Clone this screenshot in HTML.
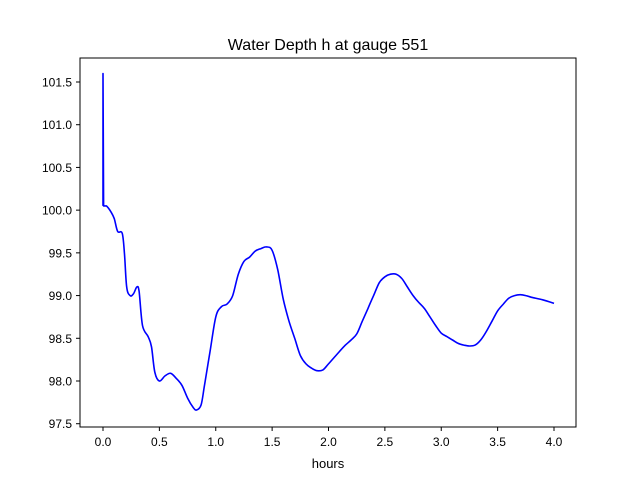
<!DOCTYPE html>
<html><head><meta charset="utf-8"><style>
body{margin:0;background:#fff}
svg{font-family:"Liberation Sans","DejaVu Sans",sans-serif}
</style></head><body>
<svg id="chart" width="640" height="480">
<rect width="640" height="480" fill="#fff"/>
<text x="328" y="50" font-size="16" text-anchor="middle">Water Depth h at gauge 551</text>
<text x="328" y="468" font-size="13" text-anchor="middle">hours</text>
<g id="ticks"></g>
<path id="line" fill="none" stroke="#0000ff" stroke-width="1.6" stroke-linejoin="round"/>
<rect x="80" y="58" width="496" height="369" fill="none" stroke="#000" stroke-width="1"/>
</svg>
<script>
const times=[0,0,0.005,0.03,0.07,0.1,0.13,0.17,0.19,0.21,0.24,0.27,0.3,0.32,0.35,0.4,0.43,0.46,0.5,0.55,0.6,0.65,0.7,0.75,0.8,0.83,0.87,0.9,0.95,1.0,1.05,1.1,1.15,1.2,1.25,1.3,1.35,1.4,1.45,1.5,1.55,1.6,1.65,1.7,1.75,1.8,1.85,1.9,1.95,2.0,2.1,2.15,2.2,2.25,2.3,2.35,2.4,2.45,2.5,2.55,2.6,2.65,2.7,2.75,2.8,2.85,2.9,2.95,3.0,3.05,3.1,3.15,3.2,3.25,3.3,3.35,3.4,3.45,3.5,3.55,3.6,3.65,3.7,3.75,3.8,3.9,4.0];
const depths=[100.05,101.6,100.05,100.05,99.98,99.9,99.75,99.73,99.5,99.1,99.0,99.02,99.1,99.05,98.65,98.52,98.4,98.1,98.0,98.06,98.09,98.03,97.95,97.8,97.69,97.66,97.72,97.95,98.35,98.75,98.87,98.9,99.0,99.25,99.4,99.45,99.52,99.55,99.57,99.53,99.3,98.95,98.7,98.5,98.3,98.2,98.15,98.12,98.13,98.2,98.35,98.42,98.48,98.55,98.7,98.85,99.0,99.15,99.22,99.25,99.25,99.2,99.1,99.0,98.92,98.85,98.75,98.65,98.56,98.52,98.48,98.44,98.42,98.41,98.42,98.48,98.58,98.7,98.82,98.9,98.97,99.0,99.01,99.0,98.98,98.95,98.91];
const xTicks=[0,0.5,1.0,1.5,2.0,2.5,3.0,3.5,4.0];
const yTicks=[97.5,98.0,98.5,99.0,99.5,100.0,100.5,101.0,101.5];
const X=t=>103+t*112.75;
const Y=v=>381-(v-98)*85.43;
const NS="http://www.w3.org/2000/svg";
const g=document.getElementById('ticks');
function mk(tag,attrs){const e=document.createElementNS(NS,tag);for(const k in attrs)e.setAttribute(k,attrs[k]);g.appendChild(e);return e;}
xTicks.forEach(t=>{
  const l=mk('line',{x1:X(t),x2:X(t),y1:427,y2:431,stroke:'#000'});
  
  
  const tx=mk('text',{x:X(t),y:446,'font-size':12,'text-anchor':'middle'});
  tx.textContent=t.toFixed(1);
  
  
});
yTicks.forEach(v=>{
  const l=mk('line',{x1:76,x2:80,y1:Y(v),y2:Y(v),stroke:'#000'});
  
  
  const tx=mk('text',{x:72,y:Y(v)+4.5,'font-size':12,'text-anchor':'end'});
  tx.textContent=v.toFixed(1);
  
  
});
const P=times.map((t,i)=>[X(t),Y(depths[i])]);
let d='M'+P[0][0].toFixed(1)+','+P[0][1].toFixed(1);
for(let i=0;i<P.length-1;i++){
  const p0=P[Math.max(0,i-1)],p1=P[i],p2=P[i+1],p3=P[Math.min(P.length-1,i+2)];
  if(i<3){d+=' L'+p2[0].toFixed(1)+','+p2[1].toFixed(1);continue;}
  const c1=[p1[0]+(p2[0]-p0[0])/6,p1[1]+(p2[1]-p0[1])/6];
  const c2=[p2[0]-(p3[0]-p1[0])/6,p2[1]-(p3[1]-p1[1])/6];
  d+=' C'+c1.map(v=>v.toFixed(1)).join(',')+' '+c2.map(v=>v.toFixed(1)).join(',')+' '+p2[0].toFixed(1)+','+p2[1].toFixed(1);
}
document.getElementById('line').setAttribute('d',d);
</script>
</body></html>
